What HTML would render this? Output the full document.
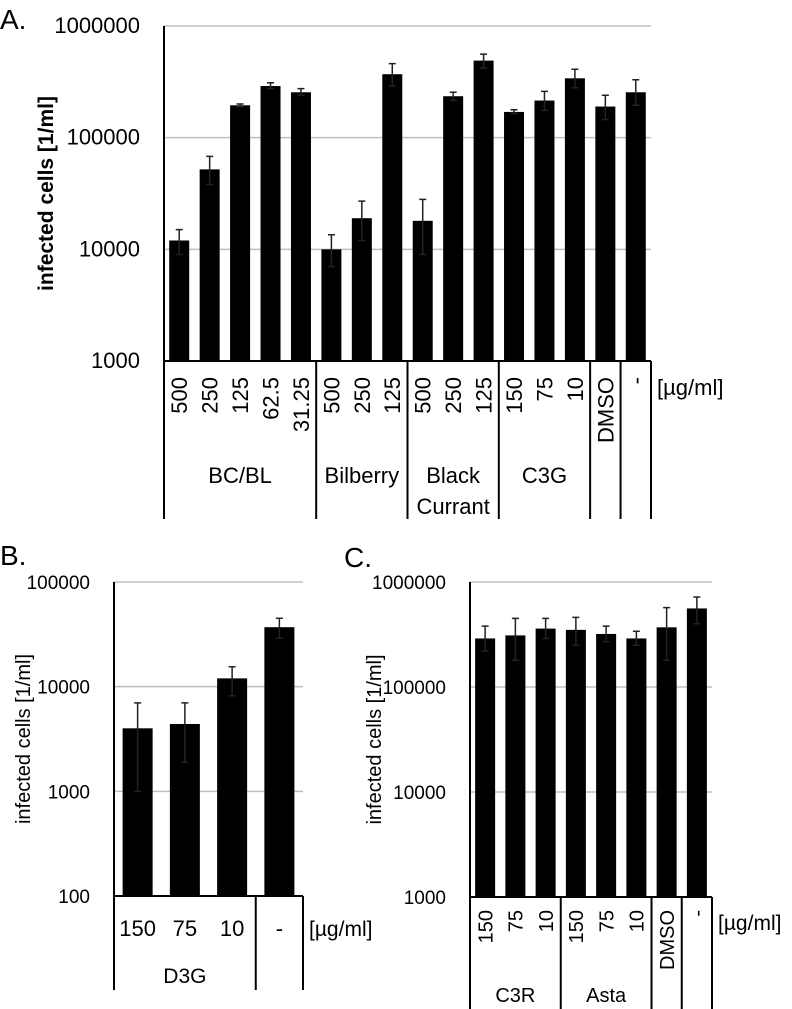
<!DOCTYPE html>
<html><head><meta charset="utf-8">
<style>
html,body{margin:0;padding:0;background:#fff;}
svg{display:block;font-family:"Liberation Sans",sans-serif;}
</style></head>
<body>
<svg id="fig" width="792" height="1009" viewBox="0 0 792 1009"></svg>
<script>
// Panel A data
const aGroups = ["BC/BL","Bilberry","Black|Currant","C3G","",""];
const aGroupSizes = [5,3,3,3,1,1];
const aTicks = ["500","250","125","62.5","31.25","500","250","125","500","250","125","150","75","10","DMSO","-"];
const aValues = [12000,52000,195000,290000,255000,10000,19000,370000,18000,235000,490000,170000,215000,340000,190000,255000];
const aErrHi = [15000,68000,200000,310000,275000,13500,27000,460000,28000,255000,560000,178000,260000,410000,240000,330000];
const aErrLo = [9000,38000,190000,275000,240000,7000,12000,290000,9000,215000,420000,165000,175000,280000,145000,195000];
const aYTicks = [1000,10000,100000,1000000];
// Panel B data
const bGroups = ["D3G",""];
const bGroupSizes = [3,1];
const bTicks = ["150","75","10","-"];
const bValues = [4000,4400,12000,37000];
const bErrHi = [7000,7000,15500,45000];
const bErrLo = [1000,1900,8200,29000];
const bYTicks = [100,1000,10000,100000];
// Panel C data
const cGroups = ["C3R","Asta","",""];
const cGroupSizes = [3,3,1,1];
const cTicks = ["150","75","10","150","75","10","DMSO","-"];
const cValues = [290000,310000,360000,350000,320000,290000,370000,560000];
const cErrHi = [380000,450000,450000,460000,380000,340000,570000,720000];
const cErrLo = [220000,180000,290000,250000,270000,250000,180000,400000];
const cYTicks = [1000,10000,100000,1000000];

const NS="http://www.w3.org/2000/svg";
const svg=document.getElementById('fig');
function mk(tag,attrs,parent){const e=document.createElementNS(NS,tag);for(const k in attrs)e.setAttribute(k,attrs[k]);(parent||svg).appendChild(e);return e;}

function panel(o){
  const g=mk('g',{});
  
  
  const lmin=Math.log10(o.yTicks[0]), lmax=Math.log10(o.yTicks[o.yTicks.length-1]);
  const y=v=>o.y1-(Math.log10(v)-lmin)/(lmax-lmin)*(o.y1-o.y0);
  const n=o.ticks.length, step=(o.x1-o.x0)/n;
  const x=i=>o.x0+step*(i+0.5);
  o.yTicks.forEach(t=>{
    if(t!==o.yTicks[0]){
      const l=mk('line',{x1:o.x0,x2:o.x1,y1:y(t),y2:y(t),stroke:'#bfbfbf','stroke-width':1.5},g);
      
      
    }
    const tx=mk('text',{x:o.x0-24,y:y(t)+7,'text-anchor':'end','font-size':o.fs},g);
    
    
    tx.textContent=t;
  });
  o.values.forEach((v,i)=>{
    const r=mk('rect',{x:x(i)-o.bw/2,y:y(v),width:o.bw,height:o.y1-y(v),fill:'#000'},g);
    
    
    const e=mk('path',{d:`M${x(i)},${y(o.hi[i])}V${y(o.lo[i])}M${x(i)-3.5},${y(o.hi[i])}H${x(i)+3.5}M${x(i)-3.5},${y(o.lo[i])}H${x(i)+3.5}`,stroke:'#222','stroke-width':1.5,fill:'none'},g);
    
    
  });
  const ax=mk('line',{x1:o.x0,x2:o.x0,y1:o.y0,y2:o.bottom,stroke:'#000','stroke-width':2},g);
  
  
  const bx=mk('line',{x1:o.x0,x2:o.x1,y1:o.y1,y2:o.y1,stroke:'#000','stroke-width':2},g);
  
  
  o.ticks.forEach((t,i)=>{
    let tx;
    if(o.rot){
      tx=mk('text',{x:0,y:0,'text-anchor':'end','font-size':o.tfs,transform:`translate(${x(i)+o.tfs*0.36},${o.tickTop}) rotate(-90)`},g);
    } else {
      tx=mk('text',{x:x(i),y:o.tickY,'text-anchor':'middle','font-size':o.tfs},g);
    }
    
    
    tx.textContent=t;
  });
  let idx=0;
  o.groups.forEach((gn,k)=>{
    const s=idx; idx+=o.sizes[k];
    const xe=o.x0+step*idx;
    const sep=mk('line',{x1:xe,x2:xe,y1:o.y1,y2:o.bottom,stroke:'#000','stroke-width':2},g);
    
    
    if(gn){
      const cx=o.x0+step*(s+idx)/2;
      gn.split('|').forEach((part,j)=>{
        const tx=mk('text',{x:cx,y:o.groupY+j*31,'text-anchor':'middle','font-size':o.gfs},g);
        
        
        tx.textContent=part;
      });
    }
  });
  const u=mk('text',{x:o.x1+6,y:o.unitY,'font-size':o.ufs},g);
  
  
  u.textContent='[µg/ml]';
  const yt=mk('text',{x:0,y:0,'text-anchor':'middle','font-size':o.titleFs,'font-weight':o.bold?'bold':'normal',transform:`translate(${o.titleX},${(o.y0+o.y1)/2}) rotate(-90)`},g);
  
  
  yt.textContent='infected cells [1/ml]';
  const pl=mk('text',{x:o.plX,y:o.plY,'font-size':28},g);
  
  
  pl.textContent=o.label;
}

panel({name:'panel-a',label:'A.',plX:0,plY:29,x0:164,x1:651,y0:26,y1:361,bottom:519,
  yTicks:aYTicks,ticks:aTicks,values:aValues,hi:aErrHi,lo:aErrLo,groups:aGroups,sizes:aGroupSizes,
  bw:20,fs:22,tfs:22,gfs:22,ufs:22,rot:true,tickTop:377,groupY:483,unitY:395,titleX:53,titleFs:21,bold:true});
panel({name:'panel-b',label:'B.',plX:0,plY:565,x0:114,x1:303,y0:582,y1:896,bottom:990,
  yTicks:bYTicks,ticks:bTicks,values:bValues,hi:bErrHi,lo:bErrLo,groups:bGroups,sizes:bGroupSizes,
  bw:30,fs:19,tfs:22,gfs:21,ufs:21,rot:false,tickY:936,groupY:983,unitY:936,titleX:30,titleFs:20,bold:false});
panel({name:'panel-c',label:'C.',plX:344,plY:567,x0:470,x1:712,y0:582,y1:897,bottom:1009,
  yTicks:cYTicks,ticks:cTicks,values:cValues,hi:cErrHi,lo:cErrLo,groups:cGroups,sizes:cGroupSizes,
  bw:20,fs:19,tfs:20,gfs:20,ufs:21,rot:true,tickTop:910,groupY:1002,unitY:930,titleX:381,titleFs:20,bold:false});
</script>
</body></html>
